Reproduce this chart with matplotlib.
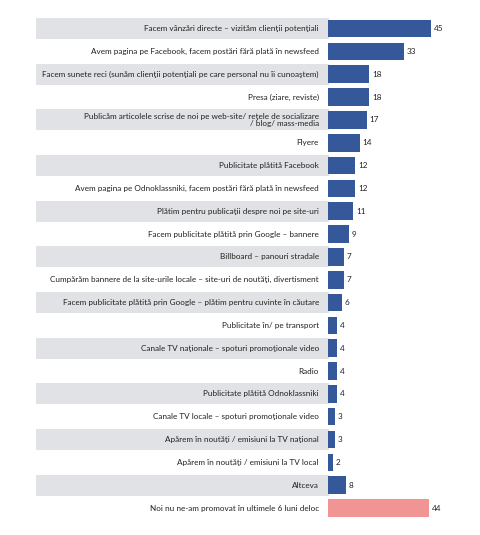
import matplotlib.pyplot as plt

plt.rcParams['font.family'] = ['Lato', 'DejaVu Sans']

# Data
labels = [
    'Facem vânzări directe – vizităm clienţii potenţiali',
    'Avem pagina pe Facebook, facem postări fără plată în newsfeed',
    'Facem sunete reci (sunăm clienţii potenţiali pe care personal nu îi cunoaştem)',
    'Presa (ziare, reviste)',
    'Publicăm articolele scrise de noi pe web-site/ reţele de socializare\n/ blog/ mass-media',
    'Flyere',
    'Publicitate plătită Facebook',
    'Avem pagina pe Odnoklassniki, facem postări fără plată în newsfeed',
    'Plătim pentru publicaţii despre noi pe site-uri',
    'Facem publicitate plătită prin Google – bannere',
    'Billboard – panouri stradale',
    'Cumpărăm bannere de la site-urile locale – site-uri de noutăţi, divertisment',
    'Facem publicitate plătită prin Google – plătim pentru cuvinte în căutare',
    'Publicitate în/ pe transport',
    'Canale TV naţionale – spoturi promoţionale video',
    'Radio',
    'Publicitate plătită Odnoklassniki',
    'Canale TV locale – spoturi promoţionale video',
    'Apărem în noutăţi / emisiuni la TV naţional',
    'Apărem în noutăţi / emisiuni la TV local',
    'Altceva',
    'Noi nu ne-am promovat în ultimele 6 luni deloc',
]
values = [45, 33, 18, 18, 17, 14, 12, 12, 11, 9, 7, 7, 6, 4, 4, 4, 4, 3, 3, 2, 8, 44]

blue = '#34589A'
pink = '#F09494'
band = '#E1E2E5'

W, H = 480, 535
fig = plt.figure(figsize=(W / 100, H / 100), dpi=100)

# axes: left edge at 36px, zero at 328px, 2.29 px per unit
px_unit = 2.29
ax_left, ax_right = 36, 470
xmin = -(328 - ax_left) / px_unit
xmax = (ax_right - 328) / px_unit
ax = fig.add_axes([ax_left / W, 0, (ax_right - ax_left) / W, 1])
ax.set_xlim(xmin, xmax)

pitch = 22.83
top0 = 28.6
ax.set_ylim(21 + (H - 508) / pitch, -top0 / pitch)

n = len(labels)
band_frac = (329 - ax_left) / (ax_right - ax_left)
for i in range(n):
    if i % 2 == 0:
        ax.axhspan(i - 0.46, i + 0.46, xmin=0, xmax=band_frac, color=band, lw=0, zorder=0)

colors = [blue] * (n - 1) + [pink]
ax.barh(range(n), values, height=0.77, color=colors, zorder=2)

fs = 5.9
for i, (lab, v) in enumerate(zip(labels, values)):
    ax.text(-4, i, lab, ha='right', va='center', fontsize=fs, color='#222222',
            linespacing=1.05)
    ax.text(v + 1.2, i, str(v), ha='left', va='center', fontsize=fs, color='#222222')

ax.axis('off')
fig.savefig('out.png', dpi=100)
